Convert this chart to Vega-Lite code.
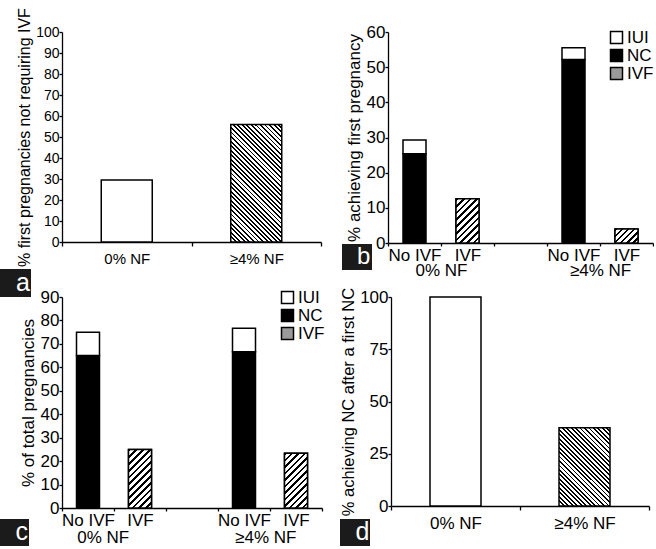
{
  "$schema": "https://vega.github.io/schema/vega-lite/v6.json",
  "padding": {"left": 0, "top": 7, "right": 0, "bottom": 0},
  "background": "white",
  "config": {
    "font": "Liberation Sans",
    "view": {"stroke": null},
    "axis": {
      "grid": false, "domainColor": "black", "tickColor": "black", "labelColor": "black", "titleColor": "black",
      "labelFont": "Liberation Sans", "titleFont": "Liberation Sans", "titleFontWeight": "normal",
      "labelFontSize": 17, "titleFontSize": 17, "domainWidth": 1.3, "tickWidth": 1.3, "tickSize": 3,
      "labelPadding": 1, "titlePadding": 3
    },
    "legend": {"labelFont": "Liberation Sans", "labelColor": "black"}
  },
  "resolve": {"scale": {"fill": "independent", "shape": "independent"}, "legend": {"fill": "independent", "shape": "independent"}},
  "spacing": -14,
  "vconcat": [
    {
      "spacing": 20,
      "resolve": {"scale": {"fill": "independent", "shape": "independent"}, "legend": {"fill": "independent", "shape": "independent"}},
      "hconcat": [
        {
          "width": 259, "height": 210,
          "layer": [
            {
              "data": {"values": [
                {"group": "0% NF", "value": 29.5},
                {"group": "≥4% NF", "value": 56}
              ]},
              "mark": {"type": "bar", "width": 51, "stroke": "black", "strokeWidth": 1.5},
              "encoding": {
                "x": {"field": "group", "type": "nominal", "scale": {"paddingInner": 0, "paddingOuter": 0},
                      "axis": {"title": null, "labelAngle": 0, "tickBand": "extent", "labelFontSize": 15, "tickSize": 4, "labelPadding": 5}},
                "y": {"field": "value", "type": "quantitative", "scale": {"domain": [0, 100]},
                      "axis": {"title": "% first pregnancies not requiring IVF", "values": [0,10,20,30,40,50,60,70,80,90,100], "labelFontSize": 14, "titleFontSize": 16, "labelPadding": 0}},
                "fill": {"condition": {"test": "datum.group === '0% NF'", "value": "white"},
                         "value": {"gradient": "linear", "x1": 0, "y1": 1, "x2": 0.5233, "y2": -0.2067, "stops": [
                  {"offset":0,"color":"#000"},{"offset":0.0108,"color":"#000"},{"offset":0.0108,"color":"#fff"},{"offset":0.027,"color":"#fff"},
                  {"offset":0.027,"color":"#000"},{"offset":0.0378,"color":"#000"},{"offset":0.0378,"color":"#fff"},{"offset":0.0541,"color":"#fff"},
                  {"offset":0.0541,"color":"#000"},{"offset":0.0649,"color":"#000"},{"offset":0.0649,"color":"#fff"},{"offset":0.0811,"color":"#fff"},
                  {"offset":0.0811,"color":"#000"},{"offset":0.0919,"color":"#000"},{"offset":0.0919,"color":"#fff"},{"offset":0.1081,"color":"#fff"},
                  {"offset":0.1081,"color":"#000"},{"offset":0.1189,"color":"#000"},{"offset":0.1189,"color":"#fff"},{"offset":0.1351,"color":"#fff"},
                  {"offset":0.1351,"color":"#000"},{"offset":0.1459,"color":"#000"},{"offset":0.1459,"color":"#fff"},{"offset":0.1622,"color":"#fff"},
                  {"offset":0.1622,"color":"#000"},{"offset":0.173,"color":"#000"},{"offset":0.173,"color":"#fff"},{"offset":0.1892,"color":"#fff"},
                  {"offset":0.1892,"color":"#000"},{"offset":0.2,"color":"#000"},{"offset":0.2,"color":"#fff"},{"offset":0.2162,"color":"#fff"},
                  {"offset":0.2162,"color":"#000"},{"offset":0.227,"color":"#000"},{"offset":0.227,"color":"#fff"},{"offset":0.2432,"color":"#fff"},
                  {"offset":0.2432,"color":"#000"},{"offset":0.2541,"color":"#000"},{"offset":0.2541,"color":"#fff"},{"offset":0.2703,"color":"#fff"},
                  {"offset":0.2703,"color":"#000"},{"offset":0.2811,"color":"#000"},{"offset":0.2811,"color":"#fff"},{"offset":0.2973,"color":"#fff"},
                  {"offset":0.2973,"color":"#000"},{"offset":0.3081,"color":"#000"},{"offset":0.3081,"color":"#fff"},{"offset":0.3243,"color":"#fff"},
                  {"offset":0.3243,"color":"#000"},{"offset":0.3351,"color":"#000"},{"offset":0.3351,"color":"#fff"},{"offset":0.3514,"color":"#fff"},
                  {"offset":0.3514,"color":"#000"},{"offset":0.3622,"color":"#000"},{"offset":0.3622,"color":"#fff"},{"offset":0.3784,"color":"#fff"},
                  {"offset":0.3784,"color":"#000"},{"offset":0.3892,"color":"#000"},{"offset":0.3892,"color":"#fff"},{"offset":0.4054,"color":"#fff"},
                  {"offset":0.4054,"color":"#000"},{"offset":0.4162,"color":"#000"},{"offset":0.4162,"color":"#fff"},{"offset":0.4324,"color":"#fff"},
                  {"offset":0.4324,"color":"#000"},{"offset":0.4432,"color":"#000"},{"offset":0.4432,"color":"#fff"},{"offset":0.4595,"color":"#fff"},
                  {"offset":0.4595,"color":"#000"},{"offset":0.4703,"color":"#000"},{"offset":0.4703,"color":"#fff"},{"offset":0.4865,"color":"#fff"},
                  {"offset":0.4865,"color":"#000"},{"offset":0.4973,"color":"#000"},{"offset":0.4973,"color":"#fff"},{"offset":0.5135,"color":"#fff"},
                  {"offset":0.5135,"color":"#000"},{"offset":0.5243,"color":"#000"},{"offset":0.5243,"color":"#fff"},{"offset":0.5405,"color":"#fff"},
                  {"offset":0.5405,"color":"#000"},{"offset":0.5514,"color":"#000"},{"offset":0.5514,"color":"#fff"},{"offset":0.5676,"color":"#fff"},
                  {"offset":0.5676,"color":"#000"},{"offset":0.5784,"color":"#000"},{"offset":0.5784,"color":"#fff"},{"offset":0.5946,"color":"#fff"},
                  {"offset":0.5946,"color":"#000"},{"offset":0.6054,"color":"#000"},{"offset":0.6054,"color":"#fff"},{"offset":0.6216,"color":"#fff"},
                  {"offset":0.6216,"color":"#000"},{"offset":0.6324,"color":"#000"},{"offset":0.6324,"color":"#fff"},{"offset":0.6486,"color":"#fff"},
                  {"offset":0.6486,"color":"#000"},{"offset":0.6595,"color":"#000"},{"offset":0.6595,"color":"#fff"},{"offset":0.6757,"color":"#fff"},
                  {"offset":0.6757,"color":"#000"},{"offset":0.6865,"color":"#000"},{"offset":0.6865,"color":"#fff"},{"offset":0.7027,"color":"#fff"},
                  {"offset":0.7027,"color":"#000"},{"offset":0.7135,"color":"#000"},{"offset":0.7135,"color":"#fff"},{"offset":0.7297,"color":"#fff"},
                  {"offset":0.7297,"color":"#000"},{"offset":0.7405,"color":"#000"},{"offset":0.7405,"color":"#fff"},{"offset":0.7568,"color":"#fff"},
                  {"offset":0.7568,"color":"#000"},{"offset":0.7676,"color":"#000"},{"offset":0.7676,"color":"#fff"},{"offset":0.7838,"color":"#fff"},
                  {"offset":0.7838,"color":"#000"},{"offset":0.7946,"color":"#000"},{"offset":0.7946,"color":"#fff"},{"offset":0.8108,"color":"#fff"},
                  {"offset":0.8108,"color":"#000"},{"offset":0.8216,"color":"#000"},{"offset":0.8216,"color":"#fff"},{"offset":0.8378,"color":"#fff"},
                  {"offset":0.8378,"color":"#000"},{"offset":0.8486,"color":"#000"},{"offset":0.8486,"color":"#fff"},{"offset":0.8649,"color":"#fff"},
                  {"offset":0.8649,"color":"#000"},{"offset":0.8757,"color":"#000"},{"offset":0.8757,"color":"#fff"},{"offset":0.8919,"color":"#fff"},
                  {"offset":0.8919,"color":"#000"},{"offset":0.9027,"color":"#000"},{"offset":0.9027,"color":"#fff"},{"offset":0.9189,"color":"#fff"},
                  {"offset":0.9189,"color":"#000"},{"offset":0.9297,"color":"#000"},{"offset":0.9297,"color":"#fff"},{"offset":0.9459,"color":"#fff"},
                  {"offset":0.9459,"color":"#000"},{"offset":0.9568,"color":"#000"},{"offset":0.9568,"color":"#fff"},{"offset":0.973,"color":"#fff"},
                  {"offset":0.973,"color":"#000"},{"offset":0.9838,"color":"#000"},{"offset":0.9838,"color":"#fff"},{"offset":1,"color":"#fff"}]}}
              }
            },
            {
              "data": {"values": [{"panel": "a"}]},
              "mark": {"type": "point", "opacity": 0, "size": 0},
              "encoding": {
                "shape": {"field": "panel", "type": "nominal",
                          "legend": {"title": null, "orient": "none", "legendX": -62, "legendY": 237, "fillColor": "#1b1b1b", "padding": 1,
                                     "symbolSize": 0, "symbolOpacity": 0, "symbolStrokeWidth": 0, "labelOffset": -10,
                                     "labelColor": "white", "labelFontSize": 25, "labelExpr": "'\u00a0' + datum.label + '\u00a0'"}}
              }
            }
          ]
        },
        {
          "width": 265, "height": 211,
          "layer": [
            {
              "data": {"values": [
                {"nf": "0% NF", "slot": "0% NF|No IVF", "type": "NC", "value": 25.4},
                {"nf": "0% NF", "slot": "0% NF|No IVF", "type": "IUI", "value": 3.9},
                {"nf": "0% NF", "slot": "0% NF|IVF", "type": "IVF", "value": 12.6},
                {"nf": "≥4% NF", "slot": "≥4% NF|No IVF", "type": "NC", "value": 52.2},
                {"nf": "≥4% NF", "slot": "≥4% NF|No IVF", "type": "IUI", "value": 3.3},
                {"nf": "≥4% NF", "slot": "≥4% NF|IVF", "type": "IVF", "value": 4.0}
              ]},
              "layer": [
                {
                  "mark": {"type": "bar", "width": 23, "stroke": "black", "strokeWidth": 1.5},
                  "encoding": {
                    "x": {"field": "slot", "type": "nominal",
                          "scale": {"domain": ["0% NF|No IVF", "0% NF|IVF", "gap", "≥4% NF|No IVF", "≥4% NF|IVF"], "paddingInner": 0, "paddingOuter": 0},
                          "axis": {"title": null, "labelAngle": 0, "tickBand": "extent", "labelExpr": "datum.value == 'gap' ? '' : split(datum.value, '|')[1]"}},
                    "y": {"field": "value", "type": "quantitative", "stack": "zero", "scale": {"domain": [0, 60]},
                          "axis": {"title": "% achieving first pregnancy", "values": [0,10,20,30,40,50,60], "labelPadding": 0}},
                    "fill": {"field": "type", "type": "nominal", "scale": {"domain": ["IUI", "NC", "IVF"], "range": ["white", "black", "#9a9a9a"]},
                             "legend": {"title": null, "orient": "none", "legendX": 220, "legendY": -3, "padding": 0, "symbolType": "square", "symbolSize": 144,
                                        "symbolStrokeColor": "black", "symbolStrokeWidth": 1.5, "labelFontSize": 17, "labelOffset": 2, "rowPadding": -1.5}},
                    "order": {"field": "type", "sort": "descending"}
                  }
                },
                {
                  "transform": [{"filter": "datum.slot === '0% NF|IVF'"}],
                  "mark": {"type": "bar", "width": 23, "stroke": "black", "strokeWidth": 1.5,
                           "fill": {"gradient": "linear", "x1": 0, "y1": 0, "x2": 0.621, "y2": 1.197, "stops": [
                             {"offset": 0, "color": "#000"}, {"offset": 0.04, "color": "#000"}, {"offset": 0.04, "color": "#fff"}, {"offset": 0.1, "color": "#fff"},
                             {"offset": 0.1, "color": "#000"}, {"offset": 0.14, "color": "#000"}, {"offset": 0.14, "color": "#fff"}, {"offset": 0.2, "color": "#fff"},
                             {"offset": 0.2, "color": "#000"}, {"offset": 0.24, "color": "#000"}, {"offset": 0.24, "color": "#fff"}, {"offset": 0.3, "color": "#fff"},
                             {"offset": 0.3, "color": "#000"}, {"offset": 0.34, "color": "#000"}, {"offset": 0.34, "color": "#fff"}, {"offset": 0.4, "color": "#fff"},
                             {"offset": 0.4, "color": "#000"}, {"offset": 0.44, "color": "#000"}, {"offset": 0.44, "color": "#fff"}, {"offset": 0.5, "color": "#fff"},
                             {"offset": 0.5, "color": "#000"}, {"offset": 0.54, "color": "#000"}, {"offset": 0.54, "color": "#fff"}, {"offset": 0.6, "color": "#fff"},
                             {"offset": 0.6, "color": "#000"}, {"offset": 0.64, "color": "#000"}, {"offset": 0.64, "color": "#fff"}, {"offset": 0.7, "color": "#fff"},
                             {"offset": 0.7, "color": "#000"}, {"offset": 0.74, "color": "#000"}, {"offset": 0.74, "color": "#fff"}, {"offset": 0.8, "color": "#fff"},
                             {"offset": 0.8, "color": "#000"}, {"offset": 0.84, "color": "#000"}, {"offset": 0.84, "color": "#fff"}, {"offset": 0.9, "color": "#fff"},
                             {"offset": 0.9, "color": "#000"}, {"offset": 0.94, "color": "#000"}, {"offset": 0.94, "color": "#fff"}, {"offset": 1, "color": "#fff"}]}},
                  "encoding": {
                    "x": {"field": "slot", "type": "nominal",
                          "axis": {"title": null, "labelAngle": 0, "tickBand": "extent", "labelExpr": "datum.value == 'gap' ? '' : split(datum.value, '|')[1]"}},
                    "y": {"field": "value", "type": "quantitative",
                          "axis": {"title": "% achieving first pregnancy", "values": [0,10,20,30,40,50,60], "labelPadding": 0}}
                  }
                },
                {
                  "transform": [{"filter": "datum.slot === '≥4% NF|IVF'"}],
                  "mark": {"type": "bar", "width": 23, "stroke": "black", "strokeWidth": 1.5,
                           "fill": {"gradient": "linear", "x1": 0, "y1": 0, "x2": 1.173, "y2": 0.717, "stops": [
                             {"offset": 0, "color": "#000"}, {"offset": 0.0667, "color": "#000"}, {"offset": 0.0667, "color": "#fff"}, {"offset": 0.1667, "color": "#fff"},
                             {"offset": 0.1667, "color": "#000"}, {"offset": 0.2333, "color": "#000"}, {"offset": 0.2333, "color": "#fff"}, {"offset": 0.3333, "color": "#fff"},
                             {"offset": 0.3333, "color": "#000"}, {"offset": 0.4, "color": "#000"}, {"offset": 0.4, "color": "#fff"}, {"offset": 0.5, "color": "#fff"},
                             {"offset": 0.5, "color": "#000"}, {"offset": 0.5667, "color": "#000"}, {"offset": 0.5667, "color": "#fff"}, {"offset": 0.6667, "color": "#fff"},
                             {"offset": 0.6667, "color": "#000"}, {"offset": 0.7333, "color": "#000"}, {"offset": 0.7333, "color": "#fff"}, {"offset": 0.8333, "color": "#fff"},
                             {"offset": 0.8333, "color": "#000"}, {"offset": 0.9, "color": "#000"}, {"offset": 0.9, "color": "#fff"}, {"offset": 1, "color": "#fff"}]}},
                  "encoding": {
                    "x": {"field": "slot", "type": "nominal",
                          "axis": {"title": null, "labelAngle": 0, "tickBand": "extent", "labelExpr": "datum.value == 'gap' ? '' : split(datum.value, '|')[1]"}},
                    "y": {"field": "value", "type": "quantitative",
                          "axis": {"title": "% achieving first pregnancy", "values": [0,10,20,30,40,50,60], "labelPadding": 0}}
                  }
                }
              ]
            },
            {
              "data": {"values": [{"nf": "0% NF"}, {"nf": "≥4% NF"}]},
              "mark": {"type": "text", "text": ""},
              "encoding": {
                "x": {"field": "nf", "type": "nominal", "scale": {"type": "point", "padding": 0.333},
                      "axis": {"orient": "bottom", "offset": 19, "domain": false, "ticks": false, "title": null, "labelAngle": 0, "labelPadding": 0}}
              }
            },
            {
              "data": {"values": [{"panel": "b"}]},
              "mark": {"type": "point", "opacity": 0, "size": 0},
              "encoding": {
                "shape": {"field": "panel", "type": "nominal",
                          "legend": {"title": null, "orient": "none", "legendX": -46, "legendY": 212, "fillColor": "#1b1b1b", "padding": 1,
                                     "symbolSize": 0, "symbolOpacity": 0, "symbolStrokeWidth": 0, "labelOffset": -10,
                                     "labelColor": "white", "labelFontSize": 24, "labelExpr": "'\u00a0' + datum.label + '\u00a0'"}}
              }
            }
          ],
          "resolve": {"scale": {"x": "independent"}, "axis": {"x": "independent"}}
        }
      ]
    },
    {
      "spacing": 15,
      "resolve": {"scale": {"fill": "independent", "shape": "independent"}, "legend": {"fill": "independent", "shape": "independent"}},
      "hconcat": [
        {
          "width": 260, "height": 211,
          "layer": [
            {
              "data": {"values": [
                {"nf": "0% NF", "slot": "0% NF|No IVF", "type": "NC", "value": 65},
                {"nf": "0% NF", "slot": "0% NF|No IVF", "type": "IUI", "value": 10},
                {"nf": "0% NF", "slot": "0% NF|IVF", "type": "IVF", "value": 25},
                {"nf": "≥4% NF", "slot": "≥4% NF|No IVF", "type": "NC", "value": 66.7},
                {"nf": "≥4% NF", "slot": "≥4% NF|No IVF", "type": "IUI", "value": 10},
                {"nf": "≥4% NF", "slot": "≥4% NF|IVF", "type": "IVF", "value": 23.3}
              ]},
              "layer": [
                {
                  "mark": {"type": "bar", "width": 23, "stroke": "black", "strokeWidth": 1.5},
                  "encoding": {
                    "x": {"field": "slot", "type": "nominal",
                          "scale": {"domain": ["0% NF|No IVF", "0% NF|IVF", "gap", "≥4% NF|No IVF", "≥4% NF|IVF"], "paddingInner": 0, "paddingOuter": 0},
                          "axis": {"title": null, "labelAngle": 0, "tickBand": "extent", "labelExpr": "datum.value == 'gap' ? '' : split(datum.value, '|')[1]"}},
                    "y": {"field": "value", "type": "quantitative", "stack": "zero", "scale": {"domain": [0, 90]},
                          "axis": {"title": "% of total pregnancies", "values": [0,10,20,30,40,50,60,70,80,90], "labelPadding": 0}},
                    "fill": {"field": "type", "type": "nominal", "scale": {"domain": ["IUI", "NC", "IVF"], "range": ["white", "black", "#9a9a9a"]},
                             "legend": {"title": null, "orient": "none", "legendX": 217, "legendY": -8, "padding": 0, "symbolType": "square", "symbolSize": 144,
                                        "symbolStrokeColor": "black", "symbolStrokeWidth": 1.5, "labelFontSize": 17, "labelOffset": 2, "rowPadding": -4}},
                    "order": {"field": "type", "sort": "descending"}
                  }
                },
                {
                  "transform": [{"filter": "datum.slot === '0% NF|IVF'"}],
                  "mark": {"type": "bar", "width": 23, "stroke": "black", "strokeWidth": 1.5,
                           "fill": {"gradient": "linear", "x1": 0, "y1": 0, "x2": 0.4736, "y2": 1.2066, "stops": [
                             {"offset": 0, "color": "#000"}, {"offset": 0.0333, "color": "#000"}, {"offset": 0.0333, "color": "#fff"}, {"offset": 0.0833, "color": "#fff"},
                             {"offset": 0.0833, "color": "#000"}, {"offset": 0.1167, "color": "#000"}, {"offset": 0.1167, "color": "#fff"}, {"offset": 0.1667, "color": "#fff"},
                             {"offset": 0.1667, "color": "#000"}, {"offset": 0.2, "color": "#000"}, {"offset": 0.2, "color": "#fff"}, {"offset": 0.25, "color": "#fff"},
                             {"offset": 0.25, "color": "#000"}, {"offset": 0.2833, "color": "#000"}, {"offset": 0.2833, "color": "#fff"}, {"offset": 0.3333, "color": "#fff"},
                             {"offset": 0.3333, "color": "#000"}, {"offset": 0.3667, "color": "#000"}, {"offset": 0.3667, "color": "#fff"}, {"offset": 0.4167, "color": "#fff"},
                             {"offset": 0.4167, "color": "#000"}, {"offset": 0.45, "color": "#000"}, {"offset": 0.45, "color": "#fff"}, {"offset": 0.5, "color": "#fff"},
                             {"offset": 0.5, "color": "#000"}, {"offset": 0.5333, "color": "#000"}, {"offset": 0.5333, "color": "#fff"}, {"offset": 0.5833, "color": "#fff"},
                             {"offset": 0.5833, "color": "#000"}, {"offset": 0.6167, "color": "#000"}, {"offset": 0.6167, "color": "#fff"}, {"offset": 0.6667, "color": "#fff"},
                             {"offset": 0.6667, "color": "#000"}, {"offset": 0.7, "color": "#000"}, {"offset": 0.7, "color": "#fff"}, {"offset": 0.75, "color": "#fff"},
                             {"offset": 0.75, "color": "#000"}, {"offset": 0.7833, "color": "#000"}, {"offset": 0.7833, "color": "#fff"}, {"offset": 0.8333, "color": "#fff"},
                             {"offset": 0.8333, "color": "#000"}, {"offset": 0.8667, "color": "#000"}, {"offset": 0.8667, "color": "#fff"}, {"offset": 0.9167, "color": "#fff"},
                             {"offset": 0.9167, "color": "#000"}, {"offset": 0.95, "color": "#000"}, {"offset": 0.95, "color": "#fff"}, {"offset": 1, "color": "#fff"}]}},
                  "encoding": {
                    "x": {"field": "slot", "type": "nominal",
                          "axis": {"title": null, "labelAngle": 0, "tickBand": "extent", "labelExpr": "datum.value == 'gap' ? '' : split(datum.value, '|')[1]"}},
                    "y": {"field": "value", "type": "quantitative",
                          "axis": {"title": "% of total pregnancies", "values": [0,10,20,30,40,50,60,70,80,90], "labelPadding": 0}}
                  }
                },
                {
                  "transform": [{"filter": "datum.slot === '≥4% NF|IVF'"}],
                  "mark": {"type": "bar", "width": 23, "stroke": "black", "strokeWidth": 1.5,
                           "fill": {"gradient": "linear", "x1": 0, "y1": 0, "x2": 0.5085, "y2": 1.2071, "stops": [
                             {"offset": 0, "color": "#000"}, {"offset": 0.0333, "color": "#000"}, {"offset": 0.0333, "color": "#fff"}, {"offset": 0.0833, "color": "#fff"},
                             {"offset": 0.0833, "color": "#000"}, {"offset": 0.1167, "color": "#000"}, {"offset": 0.1167, "color": "#fff"}, {"offset": 0.1667, "color": "#fff"},
                             {"offset": 0.1667, "color": "#000"}, {"offset": 0.2, "color": "#000"}, {"offset": 0.2, "color": "#fff"}, {"offset": 0.25, "color": "#fff"},
                             {"offset": 0.25, "color": "#000"}, {"offset": 0.2833, "color": "#000"}, {"offset": 0.2833, "color": "#fff"}, {"offset": 0.3333, "color": "#fff"},
                             {"offset": 0.3333, "color": "#000"}, {"offset": 0.3667, "color": "#000"}, {"offset": 0.3667, "color": "#fff"}, {"offset": 0.4167, "color": "#fff"},
                             {"offset": 0.4167, "color": "#000"}, {"offset": 0.45, "color": "#000"}, {"offset": 0.45, "color": "#fff"}, {"offset": 0.5, "color": "#fff"},
                             {"offset": 0.5, "color": "#000"}, {"offset": 0.5333, "color": "#000"}, {"offset": 0.5333, "color": "#fff"}, {"offset": 0.5833, "color": "#fff"},
                             {"offset": 0.5833, "color": "#000"}, {"offset": 0.6167, "color": "#000"}, {"offset": 0.6167, "color": "#fff"}, {"offset": 0.6667, "color": "#fff"},
                             {"offset": 0.6667, "color": "#000"}, {"offset": 0.7, "color": "#000"}, {"offset": 0.7, "color": "#fff"}, {"offset": 0.75, "color": "#fff"},
                             {"offset": 0.75, "color": "#000"}, {"offset": 0.7833, "color": "#000"}, {"offset": 0.7833, "color": "#fff"}, {"offset": 0.8333, "color": "#fff"},
                             {"offset": 0.8333, "color": "#000"}, {"offset": 0.8667, "color": "#000"}, {"offset": 0.8667, "color": "#fff"}, {"offset": 0.9167, "color": "#fff"},
                             {"offset": 0.9167, "color": "#000"}, {"offset": 0.95, "color": "#000"}, {"offset": 0.95, "color": "#fff"}, {"offset": 1, "color": "#fff"}]}},
                  "encoding": {
                    "x": {"field": "slot", "type": "nominal",
                          "axis": {"title": null, "labelAngle": 0, "tickBand": "extent", "labelExpr": "datum.value == 'gap' ? '' : split(datum.value, '|')[1]"}},
                    "y": {"field": "value", "type": "quantitative",
                          "axis": {"title": "% of total pregnancies", "values": [0,10,20,30,40,50,60,70,80,90], "labelPadding": 0}}
                  }
                }
              ]
            },
            {
              "data": {"values": [{"nf": "0% NF"}, {"nf": "≥4% NF"}]},
              "mark": {"type": "text", "text": ""},
              "encoding": {
                "x": {"field": "nf", "type": "nominal", "scale": {"type": "point", "padding": 0.3},
                      "axis": {"orient": "bottom", "offset": 21, "domain": false, "ticks": false, "title": null, "labelAngle": 0, "labelPadding": 0, "labelOffset": -8}}
              }
            },
            {
              "data": {"values": [{"panel": "c"}]},
              "mark": {"type": "point", "opacity": 0, "size": 0},
              "encoding": {
                "shape": {"field": "panel", "type": "nominal",
                          "legend": {"title": null, "orient": "none", "legendX": -62, "legendY": 222, "fillColor": "#1b1b1b", "padding": 0.5,
                                     "symbolSize": 0, "symbolOpacity": 0, "symbolStrokeWidth": 0, "labelOffset": -10,
                                     "labelColor": "white", "labelFontSize": 25, "labelExpr": "'\u00a0' + datum.label + '\u00a0'"}}
              }
            }
          ],
          "resolve": {"scale": {"x": "independent"}, "axis": {"x": "independent"}}
        },
        {
          "width": 258, "height": 209,
          "layer": [
            {
              "data": {"values": [
                {"group": "0% NF", "value": 100},
                {"group": "≥4% NF", "value": 37.5}
              ]},
              "mark": {"type": "bar", "width": 51, "stroke": "black", "strokeWidth": 1.5},
              "encoding": {
                "x": {"field": "group", "type": "nominal", "scale": {"paddingInner": 0, "paddingOuter": 0},
                      "axis": {"title": null, "labelAngle": 0, "tickBand": "extent", "tickSize": 4, "labelPadding": 5}},
                "y": {"field": "value", "type": "quantitative", "scale": {"domain": [0, 100]},
                      "axis": {"title": "% achieving NC after a first NC", "values": [0,25,50,75,100], "labelPadding": 0, "titleFontSize": 16.5}},
                "fill": {"condition": {"test": "datum.group === '0% NF'", "value": "white"},
                         "value": {"gradient": "linear", "x1": 0, "y1": 1, "x2": 0.7546, "y2": -0.1597, "stops": [
                  {"offset":0,"color":"#000"},{"offset":0.0138,"color":"#000"},{"offset":0.0138,"color":"#fff"},{"offset":0.0345,"color":"#fff"},
                  {"offset":0.0345,"color":"#000"},{"offset":0.0483,"color":"#000"},{"offset":0.0483,"color":"#fff"},{"offset":0.069,"color":"#fff"},
                  {"offset":0.069,"color":"#000"},{"offset":0.0828,"color":"#000"},{"offset":0.0828,"color":"#fff"},{"offset":0.1034,"color":"#fff"},
                  {"offset":0.1034,"color":"#000"},{"offset":0.1172,"color":"#000"},{"offset":0.1172,"color":"#fff"},{"offset":0.1379,"color":"#fff"},
                  {"offset":0.1379,"color":"#000"},{"offset":0.1517,"color":"#000"},{"offset":0.1517,"color":"#fff"},{"offset":0.1724,"color":"#fff"},
                  {"offset":0.1724,"color":"#000"},{"offset":0.1862,"color":"#000"},{"offset":0.1862,"color":"#fff"},{"offset":0.2069,"color":"#fff"},
                  {"offset":0.2069,"color":"#000"},{"offset":0.2207,"color":"#000"},{"offset":0.2207,"color":"#fff"},{"offset":0.2414,"color":"#fff"},
                  {"offset":0.2414,"color":"#000"},{"offset":0.2552,"color":"#000"},{"offset":0.2552,"color":"#fff"},{"offset":0.2759,"color":"#fff"},
                  {"offset":0.2759,"color":"#000"},{"offset":0.2897,"color":"#000"},{"offset":0.2897,"color":"#fff"},{"offset":0.3103,"color":"#fff"},
                  {"offset":0.3103,"color":"#000"},{"offset":0.3241,"color":"#000"},{"offset":0.3241,"color":"#fff"},{"offset":0.3448,"color":"#fff"},
                  {"offset":0.3448,"color":"#000"},{"offset":0.3586,"color":"#000"},{"offset":0.3586,"color":"#fff"},{"offset":0.3793,"color":"#fff"},
                  {"offset":0.3793,"color":"#000"},{"offset":0.3931,"color":"#000"},{"offset":0.3931,"color":"#fff"},{"offset":0.4138,"color":"#fff"},
                  {"offset":0.4138,"color":"#000"},{"offset":0.4276,"color":"#000"},{"offset":0.4276,"color":"#fff"},{"offset":0.4483,"color":"#fff"},
                  {"offset":0.4483,"color":"#000"},{"offset":0.4621,"color":"#000"},{"offset":0.4621,"color":"#fff"},{"offset":0.4828,"color":"#fff"},
                  {"offset":0.4828,"color":"#000"},{"offset":0.4966,"color":"#000"},{"offset":0.4966,"color":"#fff"},{"offset":0.5172,"color":"#fff"},
                  {"offset":0.5172,"color":"#000"},{"offset":0.531,"color":"#000"},{"offset":0.531,"color":"#fff"},{"offset":0.5517,"color":"#fff"},
                  {"offset":0.5517,"color":"#000"},{"offset":0.5655,"color":"#000"},{"offset":0.5655,"color":"#fff"},{"offset":0.5862,"color":"#fff"},
                  {"offset":0.5862,"color":"#000"},{"offset":0.6,"color":"#000"},{"offset":0.6,"color":"#fff"},{"offset":0.6207,"color":"#fff"},
                  {"offset":0.6207,"color":"#000"},{"offset":0.6345,"color":"#000"},{"offset":0.6345,"color":"#fff"},{"offset":0.6552,"color":"#fff"},
                  {"offset":0.6552,"color":"#000"},{"offset":0.669,"color":"#000"},{"offset":0.669,"color":"#fff"},{"offset":0.6897,"color":"#fff"},
                  {"offset":0.6897,"color":"#000"},{"offset":0.7034,"color":"#000"},{"offset":0.7034,"color":"#fff"},{"offset":0.7241,"color":"#fff"},
                  {"offset":0.7241,"color":"#000"},{"offset":0.7379,"color":"#000"},{"offset":0.7379,"color":"#fff"},{"offset":0.7586,"color":"#fff"},
                  {"offset":0.7586,"color":"#000"},{"offset":0.7724,"color":"#000"},{"offset":0.7724,"color":"#fff"},{"offset":0.7931,"color":"#fff"},
                  {"offset":0.7931,"color":"#000"},{"offset":0.8069,"color":"#000"},{"offset":0.8069,"color":"#fff"},{"offset":0.8276,"color":"#fff"},
                  {"offset":0.8276,"color":"#000"},{"offset":0.8414,"color":"#000"},{"offset":0.8414,"color":"#fff"},{"offset":0.8621,"color":"#fff"},
                  {"offset":0.8621,"color":"#000"},{"offset":0.8759,"color":"#000"},{"offset":0.8759,"color":"#fff"},{"offset":0.8966,"color":"#fff"},
                  {"offset":0.8966,"color":"#000"},{"offset":0.9103,"color":"#000"},{"offset":0.9103,"color":"#fff"},{"offset":0.931,"color":"#fff"},
                  {"offset":0.931,"color":"#000"},{"offset":0.9448,"color":"#000"},{"offset":0.9448,"color":"#fff"},{"offset":0.9655,"color":"#fff"},
                  {"offset":0.9655,"color":"#000"},{"offset":0.9793,"color":"#000"},{"offset":0.9793,"color":"#fff"},{"offset":1,"color":"#fff"}]}}
              }
            },
            {
              "data": {"values": [{"panel": "d"}]},
              "mark": {"type": "point", "opacity": 0, "size": 0},
              "encoding": {
                "shape": {"field": "panel", "type": "nominal",
                          "legend": {"title": null, "orient": "none", "legendX": -51, "legendY": 222, "fillColor": "#1b1b1b", "padding": 0.5,
                                     "symbolSize": 0, "symbolOpacity": 0, "symbolStrokeWidth": 0, "labelOffset": -10,
                                     "labelColor": "white", "labelFontSize": 25, "labelExpr": "'\u00a0' + datum.label + '\u00a0'"}}
              }
            }
          ]
        }
      ]
    }
  ]
}
